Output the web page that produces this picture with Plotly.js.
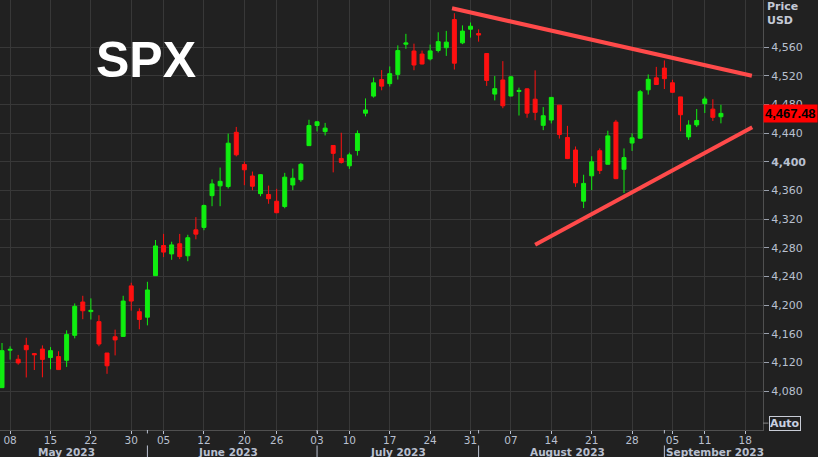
<!DOCTYPE html>
<html>
<head>
<meta charset="utf-8">
<script src="https://cdn.plot.ly/plotly-3.0.1.min.js"></script>
<style>
  html, body { margin: 0; padding: 0; background: #212121; }
  #chart { width: 818px; height: 457px; }
</style>
</head>
<body>
<div id="chart"></div>
<script>
// ---- Data (SPX daily candles) ----
const dates = [
  "2023-05-05","2023-05-08","2023-05-09","2023-05-10","2023-05-11","2023-05-12",
  "2023-05-15","2023-05-16","2023-05-17","2023-05-18","2023-05-19",
  "2023-05-22","2023-05-23","2023-05-24","2023-05-25","2023-05-26",
  "2023-05-30","2023-05-31","2023-06-01","2023-06-02",
  "2023-06-05","2023-06-06","2023-06-07","2023-06-08","2023-06-09",
  "2023-06-12","2023-06-13","2023-06-14","2023-06-15","2023-06-16",
  "2023-06-20","2023-06-21","2023-06-22","2023-06-23",
  "2023-06-26","2023-06-27","2023-06-28","2023-06-29","2023-06-30",
  "2023-07-03","2023-07-05","2023-07-06","2023-07-07",
  "2023-07-10","2023-07-11","2023-07-12","2023-07-13","2023-07-14",
  "2023-07-17","2023-07-18","2023-07-19","2023-07-20","2023-07-21",
  "2023-07-24","2023-07-25","2023-07-26","2023-07-27","2023-07-28",
  "2023-07-31","2023-08-01","2023-08-02","2023-08-03","2023-08-04",
  "2023-08-07","2023-08-08","2023-08-09","2023-08-10","2023-08-11",
  "2023-08-14","2023-08-15","2023-08-16","2023-08-17","2023-08-18",
  "2023-08-21","2023-08-22","2023-08-23","2023-08-24","2023-08-25",
  "2023-08-28","2023-08-29","2023-08-30","2023-08-31","2023-09-01",
  "2023-09-05","2023-09-06","2023-09-07","2023-09-08",
  "2023-09-11","2023-09-12","2023-09-13"
];
const openP = [
  4084.7,4137.0,4124.3,4143.7,4132.2,4138.5,
  4126.7,4128.0,4122.9,4157.7,4204.2,
  4190.8,4176.8,4133.0,4155.7,4156.2,
  4226.7,4190.7,4183.0,4241.0,
  4283.0,4271.3,4285.5,4268.7,4304.9,
  4308.3,4352.6,4366.3,4365.3,4441.0,
  4396.1,4380.0,4355.4,4354.2,
  4344.8,4337.4,4367.5,4374.9,4422.4,
  4450.5,4442.0,4422.6,4404.5,
  4394.2,4415.6,4467.7,4491.5,4514.6,
  4508.9,4521.8,4563.9,4554.4,4550.2,
  4543.4,4555.2,4559.0,4598.3,4565.8,
  4584.8,4578.8,4550.9,4494.3,4514.0,
  4491.6,4498.0,4501.6,4487.2,4450.7,
  4458.1,4478.9,4433.8,4416.3,4344.9,
  4380.3,4415.3,4396.4,4455.2,4389.4,
  4426.0,4432.8,4500.3,4517.0,4530.6,
  4510.1,4490.4,4434.6,4451.3,
  4481.0,4473.3,4462.7
];
const highP = [
  4147.0,4142.3,4130.4,4154.3,4132.8,4143.7,
  4141.3,4135.5,4164.7,4202.2,4212.9,
  4209.2,4185.7,4133.0,4165.7,4212.9,
  4231.1,4195.4,4232.4,4290.7,
  4299.3,4288.3,4299.2,4298.0,4322.6,
  4340.1,4375.4,4391.8,4439.2,4448.5,
  4400.2,4386.2,4382.3,4366.6,
  4362.1,4384.4,4390.4,4398.4,4458.5,
  4456.5,4454.1,4422.6,4440.4,
  4412.6,4443.6,4488.3,4517.4,4527.8,
  4532.9,4562.3,4578.4,4564.7,4555.0,
  4563.4,4580.6,4582.5,4607.1,4590.2,
  4594.2,4584.6,4550.9,4519.5,4540.3,
  4519.8,4503.3,4502.4,4527.4,4476.2,
  4490.3,4478.9,4450.0,4421.2,4381.8,
  4407.6,4418.6,4443.2,4458.3,4418.5,
  4439.6,4500.1,4521.7,4532.3,4541.3,
  4514.3,4490.4,4457.8,4473.5,
  4490.8,4487.1,4479.4
];
const lowP = [
  4084.7,4123.8,4116.7,4098.9,4109.3,4099.1,
  4110.3,4109.9,4113.6,4153.5,4180.2,
  4179.7,4142.5,4104.0,4129.7,4156.2,
  4192.2,4166.2,4171.6,4241.0,
  4266.8,4263.1,4264.0,4261.1,4291.7,
  4304.4,4337.9,4337.9,4362.6,4407.4,
  4367.2,4360.1,4351.8,4341.3,
  4328.1,4335.0,4360.2,4372.0,4422.4,
  4442.3,4436.6,4385.1,4397.4,
  4389.9,4408.5,4463.2,4489.4,4499.6,
  4504.9,4514.6,4557.5,4527.6,4535.8,
  4541.3,4552.4,4547.6,4528.6,4564.0,
  4573.1,4567.5,4505.8,4485.5,4474.6,
  4491.2,4464.4,4461.3,4457.9,4444.0,
  4453.4,4432.2,4403.6,4364.8,4335.3,
  4360.3,4382.8,4396.4,4375.6,4356.3,
  4415.0,4431.7,4493.6,4507.4,4501.4,
  4496.0,4442.4,4430.5,4448.4,
  4467.9,4456.8,4453.5
];
const closeP = [
  4136.3,4138.1,4119.2,4137.6,4130.6,4124.1,
  4136.3,4109.9,4158.8,4198.1,4192.0,
  4192.6,4145.6,4115.2,4151.3,4205.5,
  4205.5,4179.8,4221.0,4282.4,
  4273.8,4283.9,4267.5,4293.9,4298.9,
  4338.9,4369.0,4372.6,4425.8,4409.6,
  4388.7,4365.7,4381.9,4348.3,
  4328.8,4378.4,4376.9,4396.4,4450.4,
  4455.6,4446.8,4411.6,4399.0,
  4409.5,4439.3,4472.2,4510.0,4505.4,
  4522.8,4555.0,4565.7,4534.9,4536.3,
  4554.6,4567.5,4566.8,4537.4,4582.2,
  4589.0,4576.7,4513.4,4501.9,4478.0,
  4518.4,4499.4,4467.7,4468.8,4464.1,
  4489.7,4437.9,4404.3,4370.4,4369.7,
  4399.8,4387.6,4436.0,4376.3,4405.7,
  4433.3,4497.6,4514.9,4507.7,4515.8,
  4496.8,4465.5,4451.1,4457.5,
  4487.5,4461.9,4467.4
];
const lastPriceText = "4,467.48";
const lastPrice = 4467.48;

// x-axis ticks (weekly) and month labels
const xTickVals = ["2023-05-08","2023-05-15","2023-05-22","2023-05-30","2023-06-05","2023-06-12",
  "2023-06-20","2023-06-26","2023-07-03","2023-07-10","2023-07-17","2023-07-24","2023-07-31",
  "2023-08-07","2023-08-14","2023-08-21","2023-08-28","2023-09-05","2023-09-11","2023-09-18"];
const xTickText = ["08","15","22","30","05","12","20","26","03","10","17","24","31",
  "07","14","21","28","05","11","18"];
const monthLabels = ["May 2023","June 2023","July 2023","August 2023","September 2023"];
const monthCenters = ["2023-05-17","2023-06-15","2023-07-18","2023-08-16","2023-09-01"];
const monthStarts = ["2023-06-01","2023-07-03","2023-08-01","2023-09-01"];

// y-axis ticks
const yTickVals = [4080,4120,4160,4200,4240,4280,4320,4360,4400,4440,4480,4520,4560];
const yTickText = ["4,080","4,120","4,160","4,200","4,240","4,280","4,320","4,360","<b>4,400</b>","4,440","4,480","4,520","4,560"];

// triangle trend lines [x0, y0, x1, y1]
const upperLine = ["2023-07-26 17:00", 4614, "2023-09-18 20:00", 4520];
const lowerLine = ["2023-08-10 00:00", 4284, "2023-09-18 21:00", 4448];

const axisFont = {family: "DejaVu Sans, Verdana, sans-serif", size: 10.5, color: "#b9c0d0"};
const GREEN = "#10ee10", RED = "#ff1010";

const trace = {
  type: "candlestick",
  x: dates, open: openP, high: highP, low: lowP, close: closeP,
  increasing: {line: {color: GREEN, width: 1}, fillcolor: GREEN},
  decreasing: {line: {color: RED, width: 1}, fillcolor: RED},
  hoverinfo: "skip",
  showlegend: false
};

const shapes = [];
[upperLine, lowerLine].forEach(l => shapes.push({
  type: "line", xref: "x", yref: "y", x0: l[0], y0: l[1], x1: l[2], y1: l[3],
  line: {color: "#ff4a4a", width: 4}, layer: "above"
}));
monthStarts.forEach(d => {
  shapes.push({type: "line", xref: "x", yref: "paper", x0: d, x1: d, y0: -0.036, y1: -0.064,
    line: {color: "#b9c0d0", width: 1}});
  shapes.push({type: "line", xref: "x", yref: "paper", x0: d, x1: d, y0: 0, y1: -0.008,
    line: {color: "#b9c0d0", width: 1}});
});
// small connector to the "Auto" button
shapes.push({type: "line", xref: "paper", yref: "paper", x0: 1, x1: 1.007, y0: 0.016, y1: 0.016,
  line: {color: "#888", width: 1}});

const annotations = [];
monthLabels.forEach((m, i) => annotations.push({
  text: "<b>" + m + "</b>", xref: "x", yref: "paper", x: monthCenters[i], y: -0.052,
  xanchor: i === monthLabels.length - 1 ? "left" : "center", xshift: i === monthLabels.length - 1 ? 1 : 0,
  yanchor: "middle", showarrow: false, font: axisFont, borderpad: 0
}));
annotations.push({
  text: "<b>SPX</b>", xref: "paper", yref: "paper", x: 0.192, y: 0.86, xanchor: "center", yanchor: "middle",
  showarrow: false, font: {family: "Liberation Sans, Arial, sans-serif", size: 50, color: "#ffffff"}
});
annotations.push({
  text: "<b>Price<br>USD</b>", xref: "paper", yref: "paper", x: 1, y: 1.005, xanchor: "left", yanchor: "top",
  xshift: 2, align: "left", showarrow: false, font: {family: "DejaVu Sans, sans-serif", size: 11, color: "#c4cad6"}
});
annotations.push({
  text: "<b>" + lastPriceText + "</b>", xref: "paper", yref: "y", x: 1, y: lastPrice, xanchor: "left", yanchor: "middle",
  xshift: 0, showarrow: false, bgcolor: "#ff0000", borderpad: 1,
  font: {family: "Liberation Sans, Arial, sans-serif", size: 13, color: "#000000"}
});
annotations.push({
  text: "<b>Auto</b>", xref: "paper", yref: "paper", x: 1, y: 0.016, xanchor: "left", yanchor: "middle",
  xshift: 6, showarrow: false, bordercolor: "#c8ccd6", borderwidth: 1, borderpad: 0, bgcolor: "#212121",
  font: {family: "DejaVu Sans, sans-serif", size: 11, color: "#c8d0e0"}
});

const layout = {
  width: 818, height: 457, autosize: false,
  margin: {l: 0, r: 55, t: 0, b: 27, pad: 0},
  paper_bgcolor: "#212121", plot_bgcolor: "#212121",
  showlegend: false,
  dragmode: false,
  xaxis: {
    type: "date",
    range: ["2023-05-04 18:00", "2023-09-20 05:00"],
    rangebreaks: [{bounds: ["sat", "mon"]}, {values: ["2023-05-29","2023-06-19","2023-07-04","2023-09-04"]}],
    rangeslider: {visible: false},
    tickmode: "array", tickvals: xTickVals, ticktext: xTickText,
    ticks: "outside", ticklen: 3, tickcolor: "#b9c0d0",
    ticklabelstandoff: -3,
    tickfont: axisFont,
    showgrid: true, gridcolor: "#383838", gridwidth: 1,
    showline: true, linecolor: "#505050", linewidth: 1,
    zeroline: false, fixedrange: true
  },
  yaxis: {
    side: "right",
    range: [4025.6, 4625.6],
    tickmode: "array", tickvals: yTickVals, ticktext: yTickText,
    ticks: "outside", ticklen: 5, tickcolor: "#9aa0ac",
    tickfont: {family: "DejaVu Sans, Verdana, sans-serif", size: 11, color: "#b9c0d0"},
    showgrid: true, gridcolor: "#383838", gridwidth: 1,
    showline: true, linecolor: "#505050", linewidth: 1,
    zeroline: false, fixedrange: true
  },
  shapes: shapes,
  annotations: annotations
};

Plotly.newPlot("chart", [trace], layout, {displayModeBar: false, staticPlot: true});
</script>
</body>
</html>
